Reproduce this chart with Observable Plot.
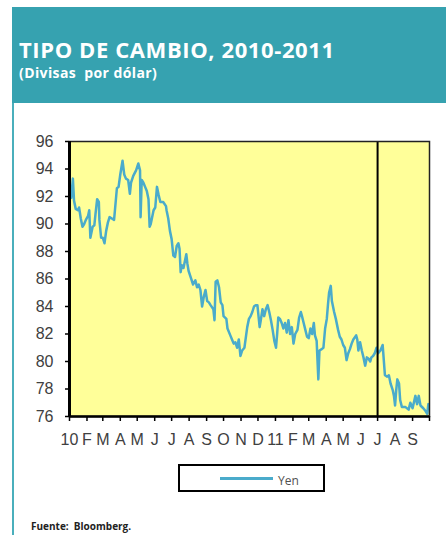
<!DOCTYPE html>
<html><head><meta charset="utf-8">
<script src="https://cdn.jsdelivr.net/npm/d3@7"></script>
<script src="https://cdn.jsdelivr.net/npm/@observablehq/plot@0.6"></script>
<style>
body{margin:0;background:#fff;}
#wrap{position:relative;width:446px;height:535px;overflow:hidden;background:#fff;}
#banner{position:absolute;left:12px;top:7px;width:434px;height:96px;background:#36A2B0;}
#leftline{position:absolute;left:12px;top:103px;width:2px;height:432px;background:#4AAFBC;}
.txt{position:absolute;white-space:pre;line-height:1;}
#title{left:19px;top:33.5px;color:#fff;font:bold 22px "Open Sans",sans-serif;letter-spacing:0.6px;}
#subtitle{left:19px;top:62.5px;color:#fff;font:bold 14px "Open Sans",sans-serif;letter-spacing:0.4px;}
#source{left:31px;top:519px;color:#222;font:bold 10px "Open Sans",sans-serif;}
#chart{position:absolute;left:0;top:120px;}
#legend{position:absolute;left:178px;top:464px;width:143px;height:24px;border:2px solid #000;background:#fff;}
#legline{position:absolute;left:40px;top:11px;width:53px;height:3px;background:#4AABCB;}
#legtxt{left:98px;top:6px;color:#505050;font:12px "Open Sans",sans-serif;}
</style>
</head><body>
<div id="wrap">
  <div id="banner"></div>
  <div id="leftline"></div>
  <div class="txt" id="title">TIPO DE CAMBIO, 2010-2011</div>
  <div class="txt" id="subtitle">(Divisas  por dólar)</div>
  <div id="chart"></div>
  <div id="legend"><div id="legline"></div><div class="txt" id="legtxt">Yen</div></div>
  <div class="txt" id="source">Fuente:  Bloomberg.</div>
</div>
<script>
const seriesName = "Yen";
const dates = [
"2010-01-01","2010-01-04","2010-01-07","2010-01-09","2010-01-12","2010-01-16","2010-01-18","2010-01-21","2010-01-24","2010-01-27","2010-01-30",
"2010-02-03","2010-02-05","2010-02-07","2010-02-11","2010-02-14","2010-02-16","2010-02-19","2010-02-22","2010-02-23","2010-02-26",
"2010-03-01","2010-03-04","2010-03-07","2010-03-10","2010-03-13","2010-03-17","2010-03-21","2010-03-26","2010-03-29",
"2010-04-01","2010-04-05","2010-04-08","2010-04-11","2010-04-15","2010-04-18","2010-04-20","2010-04-24","2010-04-29",
"2010-05-03","2010-05-06","2010-05-07","2010-05-09","2010-05-12","2010-05-15","2010-05-18","2010-05-21","2010-05-23","2010-05-25","2010-05-30",
"2010-06-02","2010-06-05","2010-06-08","2010-06-11","2010-06-16","2010-06-21","2010-06-22","2010-06-25","2010-06-28",
"2010-07-01","2010-07-04","2010-07-07","2010-07-10","2010-07-13","2010-07-15","2010-07-17","2010-07-19","2010-07-22","2010-07-27","2010-07-29","2010-07-31",
"2010-08-04","2010-08-08","2010-08-12","2010-08-15","2010-08-18","2010-08-21","2010-08-24","2010-08-27","2010-08-30",
"2010-09-02","2010-09-05","2010-09-08","2010-09-13","2010-09-15","2010-09-17","2010-09-20","2010-09-23","2010-09-26","2010-09-29",
"2010-10-01","2010-10-06","2010-10-08","2010-10-13","2010-10-16","2010-10-19","2010-10-22","2010-10-25","2010-10-28","2010-10-31",
"2010-11-03","2010-11-07","2010-11-10","2010-11-12","2010-11-15","2010-11-18","2010-11-21","2010-11-24","2010-11-27","2010-11-30",
"2010-12-04","2010-12-06","2010-12-09","2010-12-12","2010-12-15","2010-12-18","2010-12-21","2010-12-24","2010-12-27","2010-12-30",
"2011-01-02","2011-01-04","2011-01-06","2011-01-09","2011-01-12","2011-01-15","2011-01-18","2011-01-21","2011-01-24","2011-01-27","2011-01-30",
"2011-02-02","2011-02-05","2011-02-09","2011-02-12","2011-02-15","2011-02-17","2011-02-20","2011-02-23","2011-02-26",
"2011-03-01","2011-03-04","2011-03-07","2011-03-10","2011-03-12","2011-03-15","2011-03-18","2011-03-20","2011-03-24","2011-03-27","2011-03-30",
"2011-04-02","2011-04-04","2011-04-06","2011-04-09","2011-04-11","2011-04-15","2011-04-18","2011-04-22","2011-04-25","2011-04-28",
"2011-05-01","2011-05-04","2011-05-07","2011-05-10","2011-05-13","2011-05-16","2011-05-19","2011-05-24","2011-05-26","2011-05-28","2011-05-31",
"2011-06-03","2011-06-06","2011-06-09","2011-06-12","2011-06-15","2011-06-18","2011-06-20","2011-06-23","2011-06-26","2011-06-29",
"2011-07-02","2011-07-06","2011-07-10","2011-07-12","2011-07-14","2011-07-18","2011-07-21","2011-07-24","2011-07-28","2011-07-30",
"2011-08-01","2011-08-03","2011-08-05","2011-08-08","2011-08-10","2011-08-13","2011-08-19","2011-08-25","2011-08-28",
"2011-09-01","2011-09-06","2011-09-09","2011-09-12","2011-09-15","2011-09-20","2011-09-24","2011-09-27","2011-09-29"
];
const yen = [
92.4,91.9,93.3,91.7,91.1,91.0,91.2,90.4,89.8,90.0,90.3,
90.6,91.0,89.0,89.8,89.9,90.7,91.8,91.6,90.3,89.0,
89.0,88.6,89.5,90.1,90.5,90.4,90.3,92.6,92.7,
93.6,94.6,93.6,93.3,93.2,92.2,93.0,93.5,93.9,
94.4,93.9,90.5,93.2,93.0,92.7,92.4,91.8,89.8,90.0,91.0,
91.2,92.7,92.1,91.6,91.6,91.3,91.0,90.4,89.5,
88.9,87.7,87.6,88.4,88.6,88.2,86.5,87.0,86.8,87.8,87.1,86.6,
86.1,85.6,85.9,85.4,85.6,85.2,84.0,84.7,85.2,
84.4,84.3,84.1,83.8,83.0,85.8,85.9,85.4,84.3,84.1,
83.3,83.1,82.4,81.9,81.6,81.3,81.4,81.0,81.6,80.4,
80.8,81.0,81.9,82.5,83.1,83.3,83.6,84.0,84.1,84.1,
82.5,83.0,83.8,83.3,83.8,84.1,83.6,83.0,82.3,81.5,
81.0,82.0,83.2,83.1,82.8,82.4,82.8,82.1,83.0,82.0,82.5,
81.3,82.0,82.3,83.2,83.6,83.3,82.8,82.3,81.8,
81.7,82.4,82.0,82.8,81.9,81.5,78.7,80.8,80.9,81.0,82.4,
83.1,84.1,85.0,85.5,84.4,83.6,83.1,82.3,81.8,81.6,
81.2,81.0,80.1,80.6,80.9,81.3,81.6,81.9,81.6,80.8,81.4,
80.8,80.3,79.7,80.3,80.2,80.0,80.3,80.4,80.6,81.0,
80.6,80.8,81.2,80.1,79.0,78.9,79.0,78.4,77.9,77.5,
76.8,77.9,78.7,78.4,77.2,76.7,76.7,76.5,77.0,
76.6,77.5,76.9,77.5,76.8,76.6,76.4,76.2,76.9
];
const yTicks = [76,78,80,82,84,86,88,90,92,94,96];
const xLabels = ["10","F","M","A","M","J","J","A","S","O","N","D","11","F","M","A","M","J","J","A","S"];
const xStart = "2010-01-01", xEnd = "2011-10-01";
const markerDate = "2011-07-01";

const data = dates.map((d, i) => ({date: new Date(d + "T00:00:00Z"), value: yen[i]}));
const monthTicks = d3.utcMonth.range(new Date(xStart + "T00:00:00Z"), new Date(xEnd + "T00:00:00Z"));
const labelMap = new Map(monthTicks.map((d, i) => [+d, xLabels[i]]));
const x0 = new Date(xStart + "T00:00:00Z"), x1 = new Date(xEnd + "T00:00:00Z");

const chart = Plot.plot({
  width: 446, height: 340,
  marginLeft: 69, marginRight: 17, marginTop: 21, marginBottom: 44,
  style: {fontFamily: "'Liberation Sans', Arial, sans-serif", fontSize: "16px", background: "transparent", overflow: "visible"},
  x: {type: "utc", domain: [x0, x1]},
  y: {domain: [76, 96]},
  marks: [
    Plot.frame({fill: "#FFFF99", stroke: null}),
    Plot.lineY(data, {x: "date", y: "value", stroke: "#4AABCB", strokeWidth: 2.5}),
    Plot.ruleX([new Date(markerDate + "T00:00:00Z")], {stroke: "#000", strokeWidth: 2}),
    Plot.frame({stroke: "#222", strokeWidth: 1.5}),
    Plot.ruleX([x0], {stroke: "#000", strokeWidth: 3}),
    Plot.ruleY([76], {stroke: "#000", strokeWidth: 2.5}),
    Plot.axisY({ticks: yTicks, tickSize: 4, tickPadding: 12, stroke: "#000", strokeWidth: 1.5, fill: "#404040", label: null, tickFormat: d => String(d)}),
    Plot.axisX({ticks: [...monthTicks, x1], tickSize: 5, tickPadding: 12, stroke: "#000", strokeWidth: 1.5, fill: "#404040", label: null, tickFormat: d => labelMap.get(+d) ?? ""})
  ]
});
document.getElementById("chart").appendChild(chart);
</script>
</body></html>
